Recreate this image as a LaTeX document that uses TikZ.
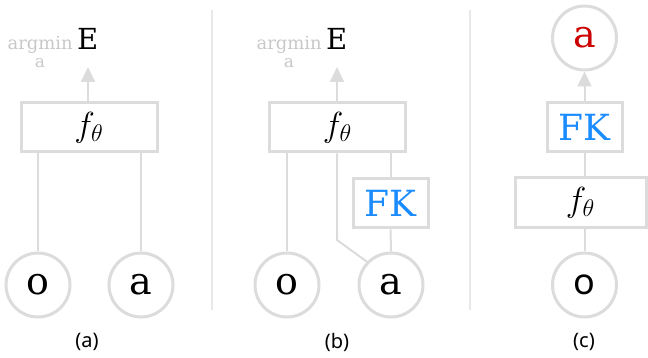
\documentclass[tikz,border=0pt]{standalone}
\usepackage{graphicx}
\usepackage{fontspec}
\setmainfont{DejaVu Serif}
\newfontfamily\capfont{Noto Sans}
\usetikzlibrary{arrows.meta}
\definecolor{lg}{HTML}{DCDCDC}
\definecolor{divc}{HTML}{E8E8E8}
\definecolor{amg}{HTML}{C8C8C8}
\definecolor{fkblue}{HTML}{1A8CFF}
\definecolor{ared}{HTML}{CC0000}
\newcommand{\ftheta}{\scalebox{1.4}{\fontsize{24}{26}\selectfont$f_{\theta}$}}
\begin{document}
\begin{tikzpicture}[x=1pt,y=-1pt,
  box/.style={draw=lg,line width=3pt,fill=white,inner sep=0pt,minimum height=49pt},
  fbox/.style={box,minimum width=136pt},
  fkbox/.style={box,minimum width=75pt,text=fkblue,font=\fontsize{36}{38}\selectfont},
  var/.style={draw=lg,line width=3pt,circle,fill=white,inner sep=0pt,minimum size=64pt,font=\fontsize{38}{40}\selectfont},
  conn/.style={draw=lg,line width=2pt},
  arr/.style={conn,-{Triangle[width=14pt,length=15pt]}},
  divider/.style={draw=divc,line width=1.5pt},
  amin/.style={text=amg,inner sep=0pt,font=\fontsize{18}{20}\selectfont},
  asub/.style={text=amg,inner sep=0pt,text height=8pt,text depth=0pt,font=\fontsize{17}{18}\selectfont},
  energy/.style={inner sep=0pt,font=\fontsize{29}{31}\selectfont},
  capt/.style={inner sep=0pt,font=\capfont\fontsize{20}{22}\selectfont}]
\useasboundingbox (0,0) rectangle (648,358);

% dividers
\coordinate (d1t) at (212,10); \coordinate (d1b) at (212,310);
\coordinate (d2t) at (470,10); \coordinate (d2b) at (470,310);
\draw[divider] (d1t) -- (d1b);
\draw[divider] (d2t) -- (d2b);

% ---------- panel (a)
\node[fbox] (fa) at (89,127.5) {\ftheta};
\node[var] (oa) at (38,285) {o};
\node[var] (aa) at (141,285) {a};
\node[energy,anchor=base west] (Ea) at (77,50) {E};
\node[amin,anchor=base east] (ama) at (73,50) {argmin};
\node[asub,anchor=base] (asa) at (40,68) {a};
\coordinate (tipa) at (88,67);
\draw[arr] (fa.north -| tipa) -- (tipa);
\draw[conn] (fa.south -| oa) -- (oa.north);
\draw[conn] (fa.south -| aa) -- (aa.north);
\node[capt] (ca) at (87,342) {(a)};

% ---------- panel (b)
\node[fbox] (fb) at (337.5,127.5) {\ftheta};
\node[fkbox] (fkb) at (390.5,203.5) {FK};
\node[var] (ob) at (287,285) {o};
\node[var] (ab) at (391,285) {a};
\node[energy,anchor=base west] (Eb) at (326,50) {E};
\node[amin,anchor=base east] (amb) at (322,50) {argmin};
\node[asub,anchor=base] (asb) at (289,68) {a};
\coordinate (tipb) at (337,67);
\draw[arr] (fb.north -| tipb) -- (tipb);
\draw[conn] (fb.south -| ob) -- (ob.north);
\draw[conn] (fb.south -| fkb) -- (fkb.north);
\draw[conn] (fkb.south) -- (ab.north);
\coordinate (kb) at (337,240);
\draw[conn] (fb.south -| kb) -- (kb) -- (ab.136);
\node[capt] (cb) at (337,342) {(b)};

% ---------- panel (c)
\node[var,text=ared] (ac) at (584.5,38) {a};
\node[fkbox] (fkc) at (584.5,127.5) {FK};
\node[fbox,minimum width=131pt,minimum height=50pt] (fc) at (580.5,203) {\ftheta};
\node[var,font=\capfont\fontsize{36}{38}\selectfont] (oc) at (584.5,285) {o};
\draw[arr] (fkc.north) -- (ac.south);
\draw[conn] (fkc.south) -- (fkc.south |- fc.north);
\draw[conn] (oc.north |- fc.south) -- (oc.north);
\node[capt] (cc) at (584,342) {(c)};
\end{tikzpicture}
\end{document}
